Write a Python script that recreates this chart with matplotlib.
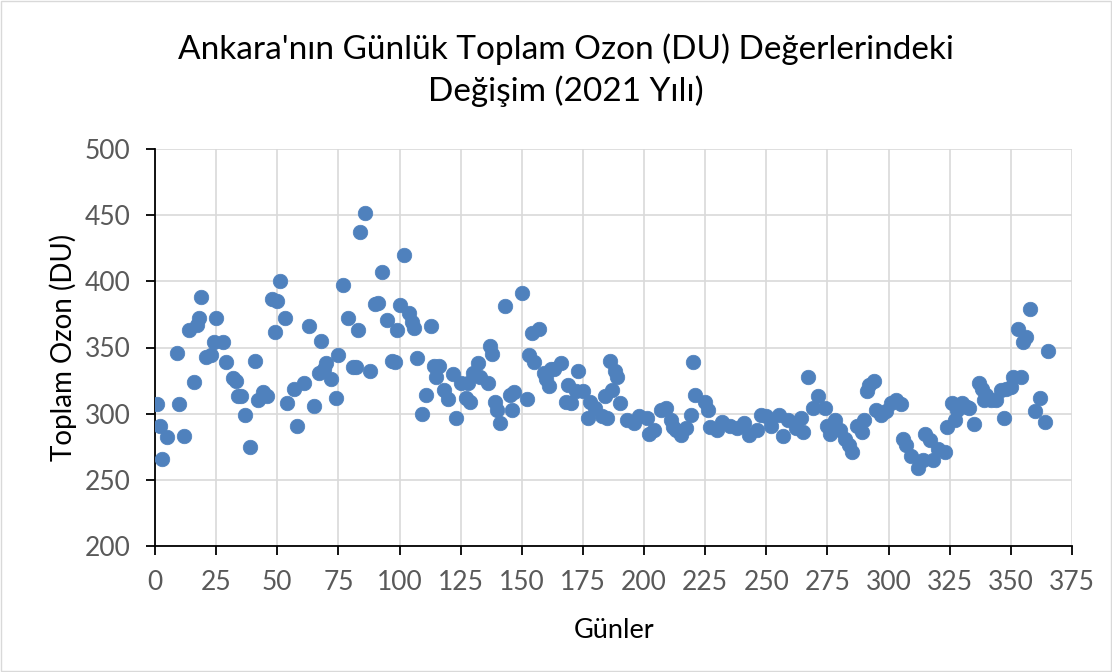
import matplotlib
matplotlib.use("Agg")
import matplotlib.pyplot as plt
from matplotlib.patches import Rectangle

days = [1, 2, 3, 5, 9, 10, 12, 14, 16, 17, 18, 19, 21, 23, 24, 25, 28, 29, 32, 33,
        34, 35, 37, 39, 41, 42, 44, 46, 48, 49, 50, 51, 53, 54, 57, 58, 61, 63, 65, 67,
        68, 69, 70, 72, 74, 75, 77, 79, 81, 82, 83, 84, 86, 88, 90, 91, 93, 95, 97, 98,
        99, 100, 102, 104, 105, 106, 107, 109, 111, 113, 114, 115, 116, 118, 120, 122, 123, 125, 127, 128,
        129, 130, 132, 133, 136, 137, 138, 139, 140, 141, 143, 145, 146, 147, 150, 152, 153, 154, 155, 157,
        159, 160, 161, 162, 163, 166, 168, 169, 170, 172, 173, 175, 177, 178, 180, 183, 184, 185, 186, 187,
        188, 189, 190, 193, 196, 198, 201, 202, 204, 207, 209, 211, 212, 213, 215, 217, 219, 220, 221, 225,
        226, 227, 230, 232, 235, 238, 241, 243, 246, 248, 250, 252, 255, 257, 259, 262, 264, 265, 267, 269,
        271, 274, 275, 276, 278, 280, 282, 284, 285, 287, 289, 290, 291, 292, 294, 295, 297, 299, 301, 303,
        305, 306, 307, 309, 312, 314, 315, 317, 318, 320, 323, 324, 326, 327, 328, 330, 332, 333, 335, 337,
        338, 339, 340, 342, 344, 346, 347, 348, 350, 351, 353, 354, 355, 356, 358, 360, 362, 364, 365]

ozone = [307, 291, 266, 282, 346, 307, 283, 363, 324, 367, 372, 388, 343, 344, 354, 372, 354, 339, 327, 325,
         313, 313, 299, 275, 340, 310, 316, 313, 387, 362, 385, 400, 372, 308, 319, 291, 323, 366, 306, 331,
         355, 334, 338, 326, 312, 344, 397, 372, 335, 335, 363, 437, 452, 332, 383, 384, 407, 371, 340, 339,
         363, 382, 420, 376, 369, 365, 342, 300, 314, 366, 336, 328, 336, 318, 311, 330, 297, 323, 312, 323,
         309, 331, 338, 328, 323, 351, 345, 309, 303, 293, 381, 314, 303, 316, 391, 311, 344, 361, 339, 364,
         331, 326, 321, 334, 334, 338, 309, 322, 308, 317, 332, 317, 297, 309, 304, 298, 313, 297, 340, 318,
         332, 328, 308, 295, 293, 298, 297, 285, 288, 303, 304, 295, 290, 288, 284, 289, 299, 339, 314, 309,
         303, 290, 288, 294, 291, 289, 293, 284, 288, 299, 298, 291, 299, 283, 295, 289, 297, 286, 328, 304,
         313, 304, 291, 285, 295, 288, 281, 276, 271, 291, 286, 295, 317, 322, 325, 303, 299, 302, 308, 310,
         307, 281, 276, 268, 259, 265, 285, 280, 265, 273, 271, 290, 308, 295, 303, 308, 305, 304, 292, 323,
         319, 310, 314, 310, 310, 318, 297, 319, 320, 328, 364, 328, 354, 358, 379, 302, 312, 294, 347]

title = "Ankara'nın Günlük Toplam Ozon (DU) Değerlerindeki\nDeğişim (2021 Yılı)"
xlabel = "Günler"
ylabel = "Toplam Ozon (DU)"
xticks = list(range(0, 376, 25))
yticks = list(range(200, 501, 50))

plt.rcParams['font.family'] = ['Lato', 'DejaVu Sans']

W, H = 1112, 672
fig = plt.figure(figsize=(W / 100, H / 100), dpi=100)
fig.patches.append(Rectangle((0.001, 0.001), 0.998, 0.997, transform=fig.transFigure,
                             fill=False, edgecolor='#d9d9d9', linewidth=1))
ax = fig.add_axes([155 / W, 1 - 546 / H, (1072 - 155) / W, (546 - 149) / H])

ax.scatter(days, ozone, s=110, color='#4f81bd', edgecolors='#4f81bd', linewidths=0.5, zorder=3)

ax.set_xlim(0, 375)
ax.set_ylim(200, 500)
ax.set_xticks(xticks)
ax.set_yticks(yticks)
ax.grid(True, color='#d9d9d9', linewidth=1.2, zorder=0)
ax.set_axisbelow(True)
for s in ['top', 'right']:
    ax.spines[s].set_visible(False)
for s in ['left', 'bottom']:
    ax.spines[s].set_color('black')
    ax.spines[s].set_linewidth(1.3)
ax.tick_params(axis='both', labelsize=19, colors='black', length=6.5, width=1.3, labelcolor='#595959')
ax.tick_params(axis='y', pad=11)
ax.tick_params(axis='x', pad=11)

fig.text(614 / W, 1 - 630 / H, xlabel, fontsize=19.5, color='black', ha='center', va='center')
fig.text(63 / W, 1 - 347 / H, ylabel, fontsize=20, color='black', ha='center', va='center',
         rotation=90)
fig.text(566 / W, 1 - 70 / H, title, fontsize=24, color='black', ha='center', va='center',
         linespacing=1.42)

fig.savefig("out.png", dpi=100)
